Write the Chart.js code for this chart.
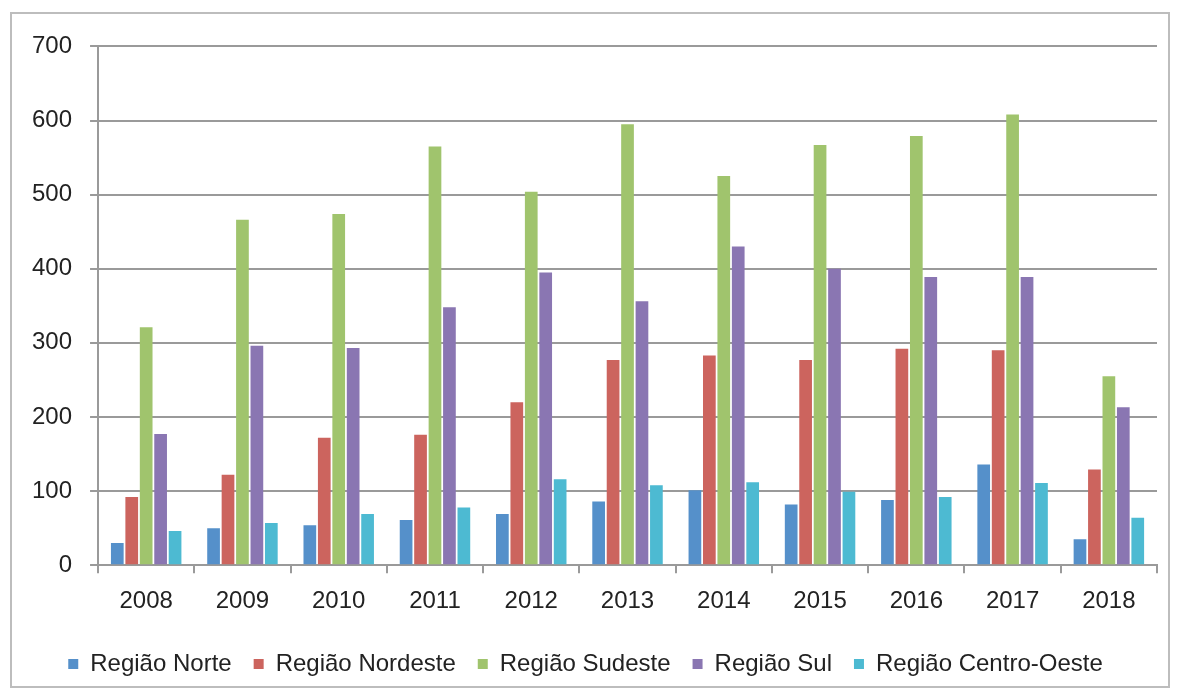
<!DOCTYPE html>
<html>
<head>
<meta charset="utf-8">
<script src="https://cdn.jsdelivr.net/npm/chart.js@4"></script>
<style>
  body { margin: 0; background: #fff; }
  #frame {
    position: absolute;
    left: 10px;
    top: 12px;
    width: 1160px;
    height: 676px;
    border: 2px solid #bdbdbd;
    box-sizing: border-box;
  }
  #chart { display: block; }
</style>
</head>
<body>
<div id="frame"><canvas id="chart" width="1156" height="672"></canvas></div>
<script>
const years = ["2008", "2009", "2010", "2011", "2012", "2013", "2014", "2015", "2016", "2017", "2018"];
const norte = [30, 50, 54, 61, 69, 86, 101, 82, 88, 136, 35];
const nordeste = [92, 122, 172, 176, 220, 277, 283, 277, 292, 290, 129];
const sudeste = [321, 466, 474, 565, 504, 595, 525, 567, 579, 608, 255];
const sul = [177, 296, 293, 348, 395, 356, 430, 400, 389, 389, 213];
const centroOeste = [46, 57, 69, 78, 116, 108, 112, 99, 92, 111, 64];
const yTicks = [0, 100, 200, 300, 400, 500, 600, 700];

const series = [
  { label: "Região Norte", data: norte, color: "#5590CA" },
  { label: "Região Nordeste", data: nordeste, color: "#CC645E" },
  { label: "Região Sudeste", data: sudeste, color: "#A0C46D" },
  { label: "Região Sul", data: sul, color: "#8A76B2" },
  { label: "Região Centro-Oeste", data: centroOeste, color: "#4DBAD2" },
];

const font = "'Liberation Sans', sans-serif";

new Chart(document.getElementById("chart"), {
  type: "bar",
  data: {
    labels: years,
    datasets: series.map((s) => ({
      label: s.label,
      data: s.data,
      backgroundColor: s.color,
      borderWidth: 0,
      barPercentage: 0.88,
      categoryPercentage: 0.75,
    })),
  },
  options: {
    responsive: false,
    animation: false,
    layout: { padding: { left: 2, right: 11, top: 20, bottom: 0 } },
    plugins: {
      tooltip: { enabled: false },
      legend: {
        position: "bottom",
        labels: {
          color: "#222",
          font: { family: font, size: 24 },
          boxWidth: 10,
          boxHeight: 10,
          padding: 22,
        },
      },
    },
    scales: {
      x: {
        grid: {
          offset: true,
          drawOnChartArea: false,
          color: "#9a9a9a",
          lineWidth: 2,
          tickLength: 8,
        },
        border: { color: "#9a9a9a", width: 2 },
        ticks: { color: "#222", font: { family: font, size: 24 }, padding: 14 },
      },
      y: {
        min: 0,
        max: 700,
        afterBuildTicks: (axis) => {
          axis.ticks = yTicks.map((v) => ({ value: v }));
        },
        grid: { color: "#9a9a9a", lineWidth: 2, tickLength: 8 },
        border: { color: "#9a9a9a", width: 2 },
        ticks: { color: "#222", font: { family: font, size: 24 }, padding: 18 },
      },
    },
  },
});
</script>
</body>
</html>
